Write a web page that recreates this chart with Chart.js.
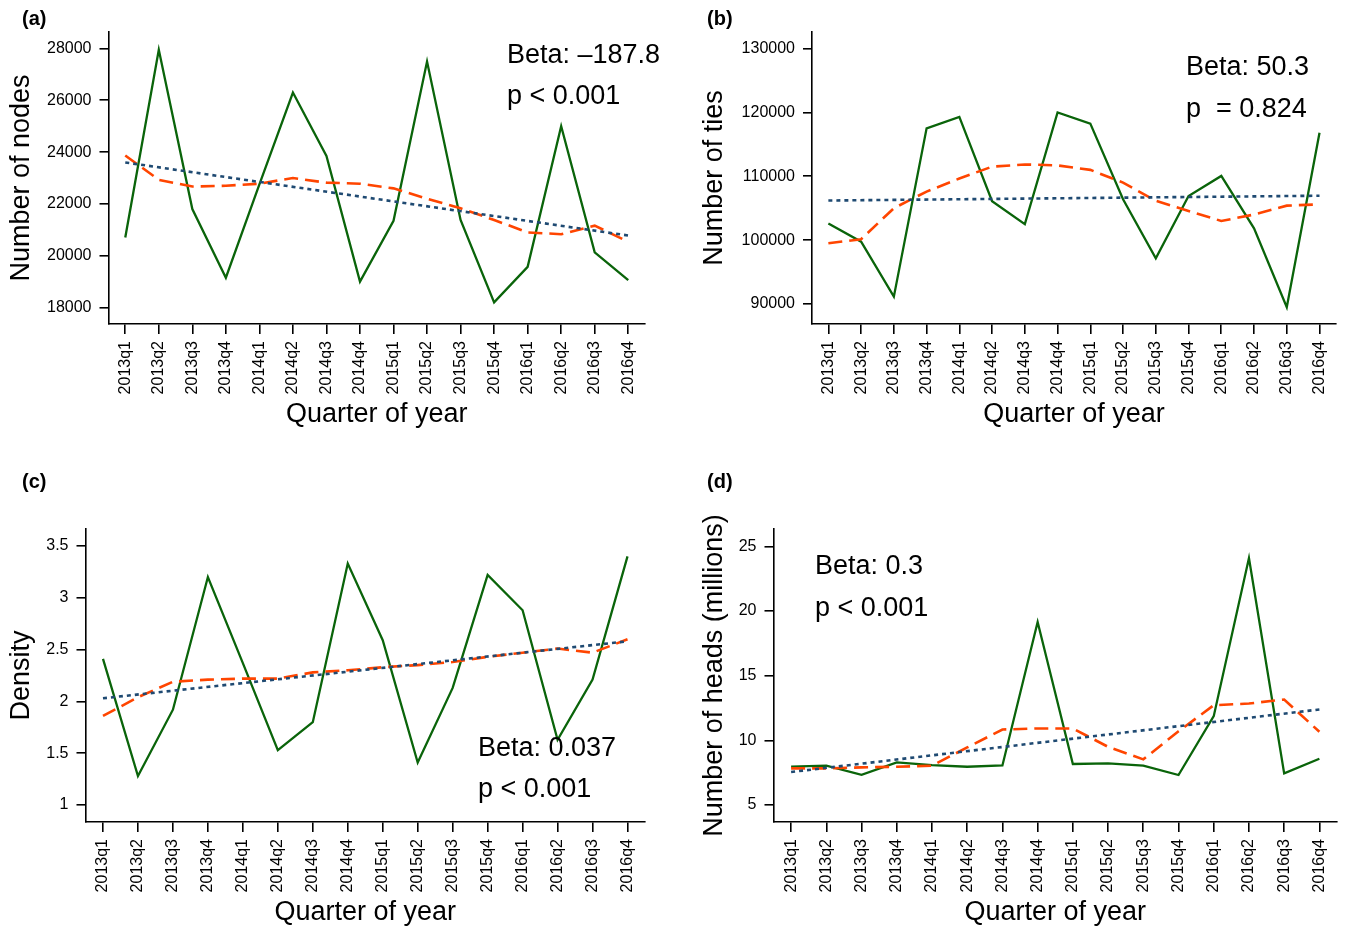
<!DOCTYPE html>
<html>
<head>
<meta charset="utf-8">
<title>Quarterly network measures, 2013–2016</title>
<script src="https://cdn.jsdelivr.net/npm/chart.js@4.4.1/dist/chart.umd.min.js"></script>
<style>
  html, body { margin: 0; padding: 0; background: #fff; }
  #wrap { position: relative; width: 1346px; height: 928px; overflow: hidden; }
  #wrap canvas { position: absolute; left: 0; top: 0; }
</style>
</head>
<body>
<div id="wrap">
  <canvas id="nodes" width="1346" height="928"></canvas>
  <canvas id="ties" width="1346" height="928"></canvas>
  <canvas id="density" width="1346" height="928"></canvas>
  <canvas id="heads" width="1346" height="928"></canvas>
</div>
<script>
// Quarters on the horizontal axis
const quarters = ['2013q1', '2013q2', '2013q3', '2013q4', '2014q1', '2014q2', '2014q3', '2014q4',
                  '2015q1', '2015q2', '2015q3', '2015q4', '2016q1', '2016q2', '2016q3', '2016q4'];

// (a) Number of nodes: observed, smoothed, linear trend (first and last quarter)
const nodesObserved = [20700, 27950, 21800, 19150, 22750, 26300, 23850, 19000, 21350, 27500, 21380, 18200, 19570, 25000, 20130, 19060];
const nodesSmoothed = [23870, 22930, 22670, 22700, 22780, 23000, 22820, 22780, 22600, 22200, 21830, 21380, 20900, 20830, 21160, 20540];
const nodesTrend = [23600, 20780];
const nodesTicks = [18000, 20000, 22000, 24000, 26000, 28000];
const nodesNote = ['Beta: \u2013187.8', 'p < 0.001'];

// (b) Number of ties
const tiesObserved = [102600, 99750, 91150, 117500, 119300, 106100, 102500, 120000, 118250, 106400, 97150, 106900, 110050, 101850, 89500, 116800];
const tiesSmoothed = [99500, 100150, 105000, 107600, 109650, 111500, 111850, 111700, 111000, 109000, 106150, 104550, 103000, 104000, 105400, 105600];
const tiesTrend = [106200, 106950];
const tiesTicks = [90000, 100000, 110000, 120000, 130000];
const tiesNote = ['Beta: 50.3', 'p  = 0.824'];

// (c) Density
const densityObserved = [2.41, 1.28, 1.92, 3.2, 2.37, 1.53, 1.8, 3.33, 2.59, 1.41, 2.13, 3.22, 2.88, 1.63, 2.21, 3.4];
const densitySmoothed = [1.86, 2.04, 2.19, 2.21, 2.22, 2.22, 2.28, 2.30, 2.33, 2.35, 2.38, 2.43, 2.47, 2.51, 2.47, 2.60];
const densityTrend = [2.03, 2.58];
const densityTicks = [1, 1.5, 2, 2.5, 3, 3.5];
const densityNote = ['Beta: 0.037', 'p < 0.001'];

// (d) Number of heads (millions)
const headsObserved = [7.96, 8.04, 7.34, 8.29, 8.09, 7.96, 8.06, 19.16, 8.17, 8.22, 8.04, 7.32, 11.87, 24.1, 7.45, 8.58];
const headsSmoothed = [7.83, 7.83, 7.91, 7.96, 8.04, 9.45, 10.84, 10.92, 10.92, 9.5, 8.53, 10.7, 12.72, 12.85, 13.16, 10.66];
const headsTrend = [7.55, 12.39];
const headsTicks = [5, 10, 15, 20, 25];
const headsNote = ['Beta: 0.3', 'p < 0.001'];

const FONT = '"Liberation Sans", Arial, Helvetica, sans-serif';
const PAGE_W = 1346, PAGE_H = 928;
const GREEN = '#0a640a', ORANGE = '#ff4500', NAVY = '#1f4a72';
const TITLE_SIZE = 27, TICK_SIZE = 16, NOTE_SIZE = 27;

// Panel tag and the Beta / p annotation, drawn on top of the lines
const panelNotes = {
  id: 'panelNotes',
  afterDraw(chart, args, o) {
    const ctx = chart.ctx;
    ctx.save();
    ctx.fillStyle = '#000';
    ctx.textAlign = 'left';
    ctx.textBaseline = 'alphabetic';
    ctx.font = 'bold 20px ' + FONT;
    ctx.fillText(o.tag, o.tagX, o.tagY);
    ctx.font = NOTE_SIZE + 'px ' + FONT;
    o.lines.forEach((t, i) => ctx.fillText(t, o.noteX, o.noteY + i * o.lineGap));
    ctx.restore();
  }
};

function drawPanel(id, p) {
  const titleLine = TITLE_SIZE * 1.2;
  const padLeft = p.yTitleX - titleLine / 2;
  const padBottom = PAGE_H - (p.xTitleY + titleLine / 2);
  const last = quarters.length - 1;

  new Chart(document.getElementById(id), {
    type: 'line',
    data: {
      labels: quarters,
      datasets: [
        { data: p.observed, borderColor: GREEN, borderWidth: 2.3, order: 3 },
        { data: p.smoothed, borderColor: ORANGE, borderWidth: 2.6, borderDash: [14, 7], order: 2 },
        { data: [{ x: quarters[0], y: p.trend[0] }, { x: quarters[last], y: p.trend[1] }],
          borderColor: NAVY, borderWidth: 2.6, borderDash: [4, 4], order: 1 }
      ]
    },
    options: {
      responsive: false,
      animation: false,
      events: [],
      layout: { padding: { left: padLeft, top: p.area.top, right: PAGE_W - p.area.right, bottom: padBottom } },
      elements: { point: { radius: 0 }, line: { tension: 0, fill: false, borderCapStyle: 'butt' } },
      plugins: {
        legend: { display: false },
        tooltip: { enabled: false },
        panelNotes: p.notes
      },
      scales: {
        x: {
          type: 'category',
          offset: true,
          border: { display: true, color: '#000', width: 1.6 },
          grid: { display: true, offset: false, drawOnChartArea: false, drawTicks: true, tickLength: 10, color: '#000', lineWidth: 1.6 },
          ticks: { autoSkip: false, minRotation: 90, maxRotation: 90, padding: 7, color: '#000', font: { family: FONT, size: TICK_SIZE } },
          title: { display: true, text: 'Quarter of year', color: '#000', padding: 0, font: { family: FONT, size: TITLE_SIZE } },
          afterFit: s => { s.height = (PAGE_H - padBottom) - p.area.bottom; }
        },
        y: {
          type: 'linear',
          min: p.yMin,
          max: p.yMax,
          afterBuildTicks: s => { s.ticks = p.ticks.map(v => ({ value: v })); },
          border: { display: true, color: '#000', width: 1.6 },
          grid: { display: true, drawOnChartArea: false, drawTicks: true, tickLength: 9, color: '#000', lineWidth: 1.6 },
          ticks: { padding: 8, color: '#000', font: { family: FONT, size: TICK_SIZE }, callback: v => String(v) },
          title: { display: true, text: p.yTitle, color: '#000', padding: 0, font: { family: FONT, size: TITLE_SIZE } },
          afterFit: s => { s.width = p.area.left - padLeft; }
        }
      }
    },
    plugins: [panelNotes]
  });
}

drawPanel('nodes', {
  observed: nodesObserved, smoothed: nodesSmoothed, trend: nodesTrend, ticks: nodesTicks,
  yMin: 17363, yMax: 28637, yTitle: 'Number of nodes',
  area: { left: 108.5, top: 32, right: 645, bottom: 324 }, yTitleX: 21.5, xTitleY: 414.3,
  notes: { tag: '(a)', tagX: 22, tagY: 24.5, lines: nodesNote, noteX: 507, noteY: 62.7, lineGap: 41.5 }
});

drawPanel('ties', {
  observed: tiesObserved, smoothed: tiesSmoothed, trend: tiesTrend, ticks: tiesTicks,
  yMin: 86869, yMax: 132583, yTitle: 'Number of ties',
  area: { left: 812, top: 32, right: 1337, bottom: 324 }, yTitleX: 714.8, xTitleY: 414.3,
  notes: { tag: '(b)', tagX: 707, tagY: 24.5, lines: tiesNote, noteX: 1186, noteY: 75, lineGap: 41.5 }
});

drawPanel('density', {
  observed: densityObserved, smoothed: densitySmoothed, trend: densityTrend, ticks: densityTicks,
  yMin: 0.836, yMax: 3.664, yTitle: 'Density',
  area: { left: 85.5, top: 529, right: 645, bottom: 822 }, yTitleX: 21.5, xTitleY: 912.7,
  notes: { tag: '(c)', tagX: 22, tagY: 487.7, lines: densityNote, noteX: 478, noteY: 756, lineGap: 41 }
});

drawPanel('heads', {
  observed: headsObserved, smoothed: headsSmoothed, trend: headsTrend, ticks: headsTicks,
  yMin: 3.684, yMax: 26.35, yTitle: 'Number of heads (millions)',
  area: { left: 773.5, top: 529, right: 1337, bottom: 822 }, yTitleX: 714.8, xTitleY: 912.7,
  notes: { tag: '(d)', tagX: 707, tagY: 487.7, lines: headsNote, noteX: 815, noteY: 574, lineGap: 42 }
});
</script>
</body>
</html>
